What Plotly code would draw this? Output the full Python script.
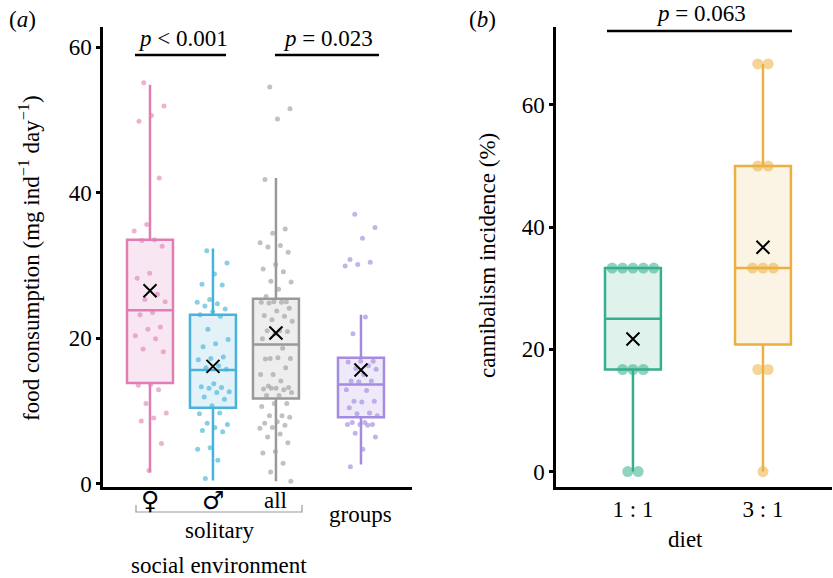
import plotly.graph_objects as go

# ---------------- data: panel (a) food consumption (mg ind-1 day-1) ----------------
labels_a = ["♀", "♂", "all", "groups"]
female = [55.1, 51.9, 50.6, 49.8, 42.0, 35.6, 34.7, 33.5, 33.4, 32.6, 28.9, 28.2,
          26.0, 25.3, 25.0, 23.5, 23.2, 21.5, 21.2, 20.3, 19.9, 18.5, 18.1, 13.6,
          13.5, 12.9, 11.0, 9.7, 9.0, 8.6, 5.5, 1.8]
male = [32.0, 30.3, 28.8, 27.4, 27.3, 25.3, 24.9, 24.7, 24.4, 24.0, 23.6, 23.2,
        23.0, 21.2, 19.8, 19.2, 18.8, 17.4, 17.2, 17.0, 16.2, 15.9, 15.7, 13.7,
        13.3, 13.2, 13.1, 12.6, 12.5, 11.9, 11.6, 10.7, 9.6, 9.7, 8.3, 8.1, 7.7,
        7.3, 7.1, 4.9, 4.7, 3.2, 0.7]
solitary_all = [54.5, 51.5, 50.1, 41.8, 35.0, 34.4, 33.1, 32.7, 32.5, 31.8, 30.1,
                29.5, 29.1, 27.8, 27.7, 26.7, 25.7, 25.0, 25.0, 24.9, 24.9, 24.8,
                24.1, 23.7, 23.1, 23.0, 22.5, 22.3, 21.0, 21.0, 20.9, 20.6, 19.9,
                18.6, 17.2, 17.2, 17.3, 17.1, 15.9, 15.0, 15.0, 14.1, 13.4, 13.2,
                13.1, 13.0, 12.9, 13.1, 12.5, 12.1, 12.1, 11.0, 11.0, 10.6, 9.3,
                9.3, 9.1, 8.5, 8.3, 8.0, 7.7, 7.6, 6.8, 6.4, 5.6, 4.4, 4.2, 2.8,
                1.6, 0.3]
grouped = [37.0, 35.2, 33.7, 30.8, 30.4, 30.1, 29.9, 22.9, 20.6, 16.8, 16.8, 16.7,
           16.2, 15.8, 15.7, 15.0, 14.1, 14.1, 14.0, 12.9, 12.8, 11.3, 11.3, 11.2,
           10.4, 9.7, 9.6, 9.3, 8.4, 8.4, 8.1, 8.1, 8.1, 8.0, 6.9, 6.4, 4.7, 2.3]
series_a = [female, male, solitary_all, grouped]
q1_a = [13.8, 10.4, 11.7, 9.1]
median_a = [23.8, 15.6, 19.1, 13.6]
q3_a = [33.5, 23.2, 25.4, 17.3]
low_a = [1.5, 0.4, 0.3, 2.6]
high_a = [54.8, 32.3, 42.0, 23.2]
mean_a = [26.5, 16.1, 20.7, 15.6]

# ---------------- data: panel (b) cannibalism incidence (%) ----------------
labels_b = ["1 : 1", "3 : 1"]
diet_11 = [33.3, 33.3, 33.3, 33.3, 33.3, 16.7, 16.7, 16.7, 0.0, 0.0]
diet_31 = [66.7, 66.7, 50.0, 50.0, 33.3, 33.3, 33.3, 16.7, 16.7, 0.0]
series_b = [diet_11, diet_31]
q1_b = [16.7, 20.8]
median_b = [25.0, 33.3]
q3_b = [33.3, 50.0]
low_b = [0.0, 0.0]
high_b = [33.3, 66.7]
mean_b = [21.7, 36.7]

# ---------------- styling ----------------
W, H = 833, 578
FONT = "Liberation Serif"
FS = 23
pos_a = [1, 2, 3, 4.35]
pos_b = [0, 1]
line_a = ["#E07EB4", "#47B3DA", "#999999", "#A48AE0"]
fill_a = ["#F8E7F2", "#E2F2F8", "#EEEEEE", "#EFEAFA"]
pt_a = ["rgba(224,126,180,0.6)", "rgba(71,179,218,0.65)", "rgba(160,160,160,0.65)",
        "rgba(164,138,224,0.65)"]
line_b = ["#35AF8D", "#EBB041"]
fill_b = ["#E0F2EC", "#FBF3E3"]
pt_b = ["rgba(53,175,141,0.55)", "rgba(235,176,65,0.55)"]


def PX(px):
    return px / W


def PY(py):
    return 1 - py / H


def spread(n, half):
    return [(((k * 0.6180339887 + 0.31) % 1.0) * 2 - 1) * half for k in range(n)]


def dodge(vals, step):
    out = []
    counts = {}
    for v in vals:
        counts[v] = counts.get(v, 0) + 1
    seen = {}
    for v in vals:
        i = seen.get(v, 0)
        seen[v] = i + 1
        out.append((i - (counts[v] - 1) / 2) * step)
    return out


fig = go.Figure()

# panel (a)
for i in range(4):
    fig.add_trace(go.Box(
        x=[pos_a[i]], q1=[q1_a[i]], median=[median_a[i]], q3=[q3_a[i]],
        lowerfence=[low_a[i]], upperfence=[high_a[i]], width=0.73,
        whiskerwidth=0, fillcolor=fill_a[i], line=dict(color=line_a[i], width=2.5),
        boxpoints=False, xaxis="x", yaxis="y", showlegend=False, hoverinfo="skip"))
for i in range(4):
    vals = series_a[i]
    offs = spread(len(vals), 0.26)
    fig.add_trace(go.Scatter(
        x=[pos_a[i] + o for o in offs], y=vals, mode="markers",
        marker=dict(size=5, color=pt_a[i], line=dict(width=0)),
        xaxis="x", yaxis="y", showlegend=False, hoverinfo="skip"))
fig.add_trace(go.Scatter(
    x=pos_a, y=mean_a, mode="markers",
    marker=dict(symbol="x-thin", size=13, line=dict(color="black", width=2)),
    xaxis="x", yaxis="y", showlegend=False, hoverinfo="skip"))

# panel (b)
for i in range(2):
    fig.add_trace(go.Box(
        x=[pos_b[i]], q1=[q1_b[i]], median=[median_b[i]], q3=[q3_b[i]],
        lowerfence=[low_b[i]], upperfence=[high_b[i]], width=0.43,
        whiskerwidth=0, fillcolor=fill_b[i], line=dict(color=line_b[i], width=2.5),
        boxpoints=False, xaxis="x2", yaxis="y2", showlegend=False, hoverinfo="skip"))
for i in range(2):
    vals = series_b[i]
    offs = dodge(vals, 0.08)
    fig.add_trace(go.Scatter(
        x=[pos_b[i] + o for o in offs], y=vals, mode="markers",
        marker=dict(size=11, color=pt_b[i], line=dict(width=0)),
        xaxis="x2", yaxis="y2", showlegend=False, hoverinfo="skip"))
fig.add_trace(go.Scatter(
    x=pos_b, y=mean_b, mode="markers",
    marker=dict(symbol="x-thin", size=13, line=dict(color="black", width=2)),
    xaxis="x2", yaxis="y2", showlegend=False, hoverinfo="skip"))

ydom = [PY(486.5), PY(27)]
axis_common = dict(showgrid=False, zeroline=False, showline=True, linecolor="black",
                   linewidth=2.5, automargin=False,
                   tickfont=dict(family=FONT, size=FS, color="black"))
fig.update_layout(
    width=W, height=H, margin=dict(l=0, r=0, t=0, b=0, pad=0, autoexpand=False),
    paper_bgcolor="white", plot_bgcolor="white",
    font=dict(family=FONT, size=FS, color="black"),
    xaxis=dict(domain=[PX(103), PX(412)], range=[0.254, 5.16], ticks="",
               showticklabels=False, anchor="y", **axis_common),
    yaxis=dict(domain=ydom, range=[-0.41, 62.75], tickvals=[0, 20, 40, 60],
               ticks="outside", ticklen=4, tickwidth=2.5, tickcolor="black",
               anchor="x", **axis_common),
    xaxis2=dict(domain=[PX(556), PX(832)], range=[-0.592, 1.531], ticks="",
                tickvals=pos_b, ticktext=labels_b, anchor="y2", **axis_common),
    yaxis2=dict(domain=ydom, range=[-2.45, 72.75], tickvals=[0, 20, 40, 60],
                ticks="outside", ticklen=4, tickwidth=2.5, tickcolor="black",
                anchor="x2", **axis_common),
)

ann = []


def text(x, y, s, size=FS, angle=0, xref="paper", family=FONT):
    ann.append(dict(x=x, y=y, xref=xref, yref="paper", text=s, showarrow=False,
                    xanchor="center", yanchor="middle", textangle=angle,
                    font=dict(family=family, size=size, color="black")))


# panel labels
text(PX(22), PY(20), "(<i>a</i>)")
text(PX(482), PY(20), "(<i>b</i>)")
# x labels (a)
for i in range(2):
    text(pos_a[i], PY(500), labels_a[i], size=25, xref="x", family="DejaVu Sans")
text(pos_a[2], PY(500), labels_a[2], xref="x")
text(pos_a[3], PY(514), labels_a[3], xref="x")
text(PX(219), PY(530), "solitary")
text(PX(219), PY(565), "social environment")
text(PX(685), PY(539), "diet")
# y titles
text(PX(29), PY(258), "food consumption (mg ind<sup>−1</sup> day<sup>−1</sup>)", angle=-90)
text(PX(487), PY(256), "cannibalism incidence (%)", angle=-90)
# p values
text(PX(183), PY(38), "<i>p</i> < 0.001")
text(PX(328), PY(38), "<i>p</i> = 0.023")
text(PX(701), PY(13), "<i>p</i> = 0.063")
fig.update_layout(annotations=ann)

shapes = []
for x0, x1, yy in [(135, 226, 55), (275, 379, 55), (607, 792, 31)]:
    shapes.append(dict(type="line", xref="paper", yref="paper", x0=PX(x0), x1=PX(x1),
                       y0=PY(yy), y1=PY(yy), line=dict(color="black", width=2.5)))
# bracket for solitary
shapes.append(dict(type="path", xref="paper", yref="paper",
                   path=f"M {PX(136)} {PY(505)} L {PX(136)} {PY(512)} L {PX(302)} {PY(512)} L {PX(302)} {PY(505)}",
                   line=dict(color="#999999", width=1.2)))
fig.update_layout(shapes=shapes)

fig.write_html("out.html")
